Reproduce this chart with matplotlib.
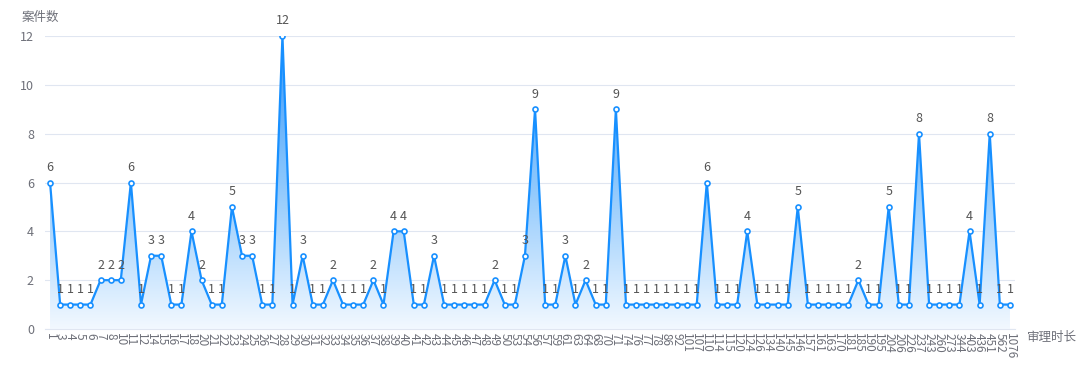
import numpy as np
import matplotlib.pyplot as plt
from matplotlib.colors import LinearSegmentedColormap

plt.rcParams['font.family'] = ['Noto Sans CJK SC', 'DejaVu Sans']

# 审理时长 categories (x axis) and case counts
durations = ['1', '3', '4', '5', '6', '7', '8',
             '10', '11', '12', '14', '15', '16', '17', '18',
             '20', '21', '22', '23', '24', '25', '26', '27', '28', '29',
             '30', '31', '32', '33', '34', '35', '36', '37', '38', '39',
             '40', '41', '42', '43', '44', '45', '46', '47', '48', '49',
             '50', '53', '54', '56', '57', '59', '61', '63', '64', '68',
             '70', '71', '74', '76', '77', '78', '86', '92',
             '101', '107', '110', '114', '115', '120', '124', '126', '134', '140',
             '145', '146', '157', '161', '163', '170', '181', '185', '190', '195',
             '204', '206', '226', '237', '243', '260', '273', '344', '403', '436',
             '451', '562', '1076']
counts = [6, 1, 1, 1, 1, 2, 2, 2, 6, 1, 3, 3, 1, 1, 4, 2, 1, 1, 5, 3,
          3, 1, 1, 12, 1, 3, 1, 1, 2, 1, 1, 1, 2, 1, 4, 4, 1, 1, 3, 1,
          1, 1, 1, 1, 2, 1, 1, 3, 9, 1, 1, 3, 1, 2, 1, 1, 9, 1, 1, 1,
          1, 1, 1, 1, 1, 6, 1, 1, 1, 4, 1, 1, 1, 1, 5, 1, 1, 1, 1, 1,
          2, 1, 1, 5, 1, 1, 8, 1, 1, 1, 1, 4, 1, 8, 1, 1]

line_color = '#1890ff'
text_color = '#6e7079'

x = np.arange(len(counts))
y = np.array(counts)

fig = plt.figure(figsize=(10.8, 3.71), dpi=100)
ax = fig.add_axes([45 / 1080, 42 / 371, 970 / 1080, 293 / 371])

# gradient area under the line
cmap = LinearSegmentedColormap.from_list(
    'area', [(0.95, 0.975, 1.0), (0.55, 0.78, 0.99), (0.22, 0.6, 0.98)])
poly = ax.fill_between(x, y, 0, color='none')
grad = np.linspace(0, 1, 256).reshape(-1, 1)
img = ax.imshow(grad, cmap=cmap, aspect='auto', origin='lower',
                extent=[x[0], x[-1], 0, 12], zorder=1)
img.set_clip_path(poly.get_paths()[0], transform=ax.transData)

ax.plot(x, y, color=line_color, lw=1.6, zorder=3,
        marker='o', ms=3.6, mfc='white', mec=line_color, mew=1.2)

for xi, yi in zip(x, y):
    ax.text(xi, yi + 0.35, str(yi), ha='center', va='bottom',
            fontsize=9, color='#555555', zorder=4)

ax.set_xlim(-0.5, len(counts) - 0.5)
ax.set_ylim(0, 12)
ax.set_yticks(range(0, 13, 2))
ax.set_xticks(x)
ax.set_xticklabels(durations, rotation=-90, fontsize=8.5, color=text_color)
ax.tick_params(axis='y', labelsize=9, colors=text_color, length=0, pad=8)
ax.tick_params(axis='x', length=0, pad=3)
ax.grid(axis='y', color='#e0e6f1', lw=0.8)
ax.set_axisbelow(True)
for side in ['top', 'right', 'left']:
    ax.spines[side].set_visible(False)
ax.spines['bottom'].set_color('#e0e6f1')

fig.text(22 / 1080, 1 - 17 / 371, '案件数', fontsize=9, color=text_color,
         va='center', ha='left')
fig.text(1027 / 1080, 1 - 338 / 371, '审理时长', fontsize=9, color=text_color,
         va='center', ha='left')

fig.savefig('out.png', dpi=100)
